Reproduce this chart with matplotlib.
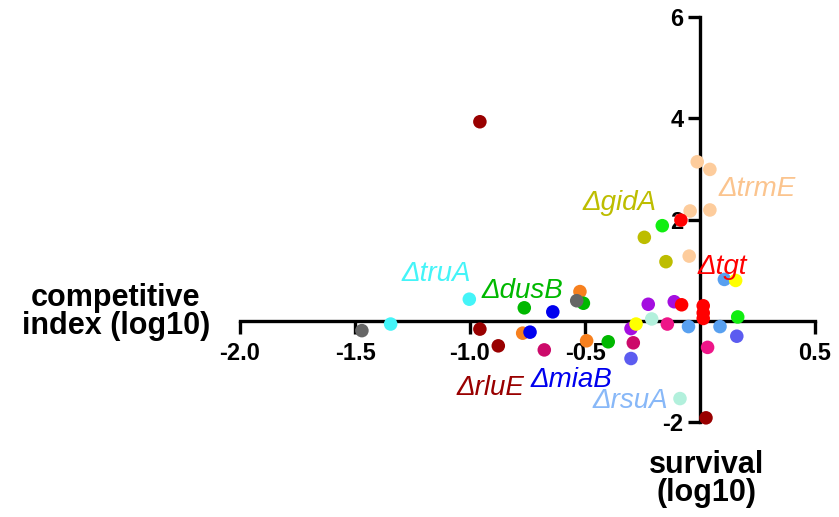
import matplotlib.pyplot as plt

plt.rcParams['font.family'] = ['Liberation Sans', 'DejaVu Sans']
plt.rcParams['axes.unicode_minus'] = False

# x = competitive index (log10), y = survival (log10), one list pair per colour group
peach_x = [-0.047, -0.043, 0.043, -0.012, 0.043]
peach_y = [1.28, 2.17, 2.19, 3.14, 2.99]
olive_x = [-0.148, -0.242]
olive_y = [1.17, 1.65]
darkred_x = [-0.957, -0.957, -0.877, 0.026]
darkred_y = [3.93, -0.16, -0.49, -1.91]
gray_x = [-1.47, -0.536]
gray_y = [-0.19, 0.40]
cyan_x = [-1.345, -1.003]
cyan_y = [-0.06, 0.43]
orange_x = [-0.771, -0.522, -0.493]
orange_y = [-0.24, 0.58, -0.39]
green_x = [-0.764, -0.507, -0.399]
green_y = [0.26, 0.35, -0.41]
blue_x = [-0.739, -0.64]
blue_y = [-0.22, 0.18]
magenta_x = [-0.677, -0.29]
magenta_y = [-0.57, -0.43]
slate_x = [-0.30, 0.16]
slate_y = [-0.74, -0.30]
purple_x = [-0.30, -0.225, -0.112]
purple_y = [-0.15, 0.33, 0.38]
mint_x = [-0.21, -0.087]
mint_y = [0.04, -1.53]
pink_x = [-0.142, 0.033]
pink_y = [-0.06, -0.52]
lightblue_x = [-0.05, 0.087, 0.106]
lightblue_y = [-0.11, -0.11, 0.82]
lime_x = [0.164, -0.164]
lime_y = [0.08, 1.88]
red_x = [-0.08, 0.014, 0.014, 0.014, -0.083]
red_y = [0.32, 0.30, 0.16, 0.05, 1.99]
yellow_x = [-0.278, 0.155]
yellow_y = [-0.06, 0.80]

groups = [
    (peach_x, peach_y, '#fdcc9c'),
    (olive_x, olive_y, '#bdbd00'),
    (darkred_x, darkred_y, '#990000'),
    (orange_x, orange_y, '#f7801e'),
    (green_x, green_y, '#00b800'),
    (gray_x, gray_y, '#666666'),
    (cyan_x, cyan_y, '#44f4f8'),
    (blue_x, blue_y, '#0000ee'),
    (magenta_x, magenta_y, '#cc0a6a'),
    (slate_x, slate_y, '#5c5cf0'),
    (purple_x, purple_y, '#a40ee0'),
    (mint_x, mint_y, '#b2f0dc'),
    (pink_x, pink_y, '#ee1588'),
    (lightblue_x, lightblue_y, '#58a0f0'),
    (lime_x, lime_y, '#11ee11'),
    (red_x, red_y, '#ff0000'),
    (yellow_x, yellow_y, '#ffff00'),
]

# mutant labels: text, x, y, colour
labels = [
    ('ΔtruA', -1.148, 0.92, '#44f4f8'),
    ('ΔdusB', -0.774, 0.60, '#00b800'),
    ('ΔrluE', -0.909, -1.33, '#990000'),
    ('ΔmiaB', -0.561, -1.17, '#0000ee'),
    ('ΔrsuA', -0.304, -1.57, '#88b8f8'),
    ('ΔgidA', -0.348, 2.32, '#bdbd00'),
    ('ΔtrmE', 0.248, 2.61, '#fbc48e'),
    ('Δtgt', 0.095, 1.06, '#ff0000'),
]

xticks = [-2.0, -1.5, -1.0, -0.5, 0.5]
xticklabels = ['-2.0', '-1.5', '-1.0', '-0.5', '0.5']
yticks = [-2, 2, 4, 6]

W, H = 839, 517
fig = plt.figure(figsize=(W / 100, H / 100), dpi=100)
ax = fig.add_axes([240 / W, 94.6 / H, 575 / W, 405.6 / H])

for xs, ys, c in groups:
    ax.scatter(xs, ys, s=95, color=c, edgecolors='none', zorder=3, clip_on=False)

for txt, x, y, c in labels:
    ax.text(x, y, txt, color=c, fontsize=20, style='italic', ha='center', va='center')

ax.set_xlim(-2.0, 0.5)
ax.set_ylim(-2, 6)

ax.spines['left'].set_position(('data', 0))
ax.spines['bottom'].set_position(('data', 0))
ax.spines['right'].set_visible(False)
ax.spines['top'].set_visible(False)
for sp in ('left', 'bottom'):
    ax.spines[sp].set_linewidth(2.4)

ax.set_xticks(xticks)
ax.set_xticklabels(xticklabels)
ax.set_yticks(yticks)
ax.tick_params(axis='both', width=2.4, length=9, labelsize=17, direction='out')
ax.tick_params(axis='x', pad=6)
ax.tick_params(axis='y', pad=3)
for lab in ax.get_xticklabels() + ax.get_yticklabels():
    lab.set_fontweight('bold')

fig.text(116 / W, 1 - 312 / H, 'competitive\nindex (log10)', fontsize=22, fontweight='bold',
         ha='center', va='center', linespacing=0.9)
fig.text(707 / W, 1 - 479 / H, 'survival\n(log10)', fontsize=22, fontweight='bold',
         ha='center', va='center', linespacing=0.9)

fig.savefig('out.png', dpi=100)
